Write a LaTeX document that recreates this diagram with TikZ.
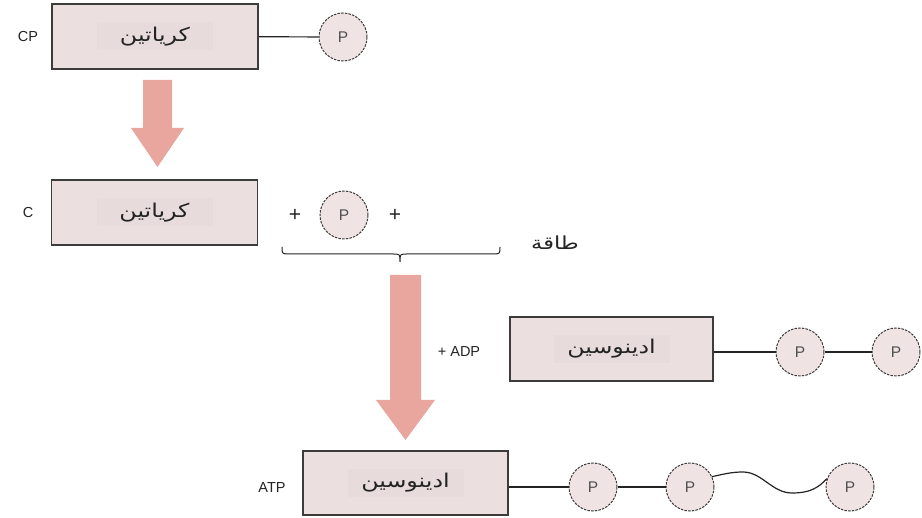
\documentclass[tikz,border=0pt]{standalone}
\usepackage{fontspec}
\setmainfont{Liberation Sans}
\newfontfamily\arabicfont[Script=Arabic,FakeStretch=1.25]{DejaVu Sans}
\TeXXeTstate=1
\definecolor{boxfill}{RGB}{236,223,223}
\definecolor{innerfill}{RGB}{231,219,219}
\definecolor{arrowfill}{RGB}{232,166,158}
\definecolor{pfill}{RGB}{240,227,227}
\definecolor{edge}{RGB}{60,60,60}
\definecolor{ink}{RGB}{35,35,35}
\begin{document}
\begin{tikzpicture}[x=1pt,y=-1pt,
  molbox/.style={draw=edge, line width=1.5pt, fill=boxfill, inner sep=0pt,
    minimum width=206pt, minimum height=65pt, text=ink,
    font=\arabicfont\fontsize{19}{19}\selectfont,
    path picture={\fill[innerfill]
      ([xshift=-58pt,yshift=-14pt]path picture bounding box.center)
      rectangle ([xshift=58pt,yshift=14pt]path picture bounding box.center);}},
  phos/.style={circle, draw=edge, line width=1pt, dash pattern=on 2.5pt off 1.2pt,
    fill=pfill, minimum size=48pt, inner sep=0pt, text=ink!80,
    font=\fontsize{15.5}{15.5}\selectfont},
  lbl/.style={text=ink, font=\fontsize{14.5}{14.5}\selectfont, inner sep=0pt},
  plus/.style={text=ink, font=\fontsize{21}{21}\selectfont, inner sep=0pt},
  arlbl/.style={text=ink, font=\arabicfont\fontsize{18}{18}\selectfont, inner sep=0pt},
  bond/.style={draw=ink, line width=1.2pt},
  bigarrow/.style={fill=arrowfill, draw=none}]

\useasboundingbox (0,0) rectangle (922,518);

% creatine phosphate
\node[molbox] (b1) at (155,36.5) {\beginR كرياتين\endR};
\node[lbl] (cp) at (28,37) {CP};
\node[phos] (p1) at (343,37) {P};
\draw[bond] (b1) -- (p1);

% first reaction arrow
\fill[bigarrow] (143,80) -- (172,80) -- (172,128) -- (184,128) -- (157.5,167)
  -- (131,128) -- (143,128) -- cycle;

% creatine + phosphate + energy
\node[molbox] (b2) at (154.5,212.5) {\beginR كرياتين\endR};
\node[lbl] (c) at (28,213) {C};
\node[plus] (plus1) at (295,215) {+};
\node[phos] (p2) at (344,215) {P};
\node[plus] (plus2) at (395,215) {+};
\node[arlbl] (energy) at (555,243) {\beginR طاقة\endR};

% brace under the released products
\draw[ink, line width=1pt] (282,247) .. controls (282,254) .. (290,254) -- (393,254)
  .. controls (400,254) .. (400,262) .. controls (400,254) .. (407,254) -- (492,254)
  .. controls (500,254) .. (500,247);

% second reaction arrow
\fill[bigarrow] (390,275) -- (421,275) -- (421,400) -- (435,400) -- (405.5,440)
  -- (376,400) -- (390,400) -- cycle;

% ADP
\node[lbl] (adp) at (459,352) {+ ADP};
\node[molbox, minimum width=203pt, minimum height=64pt] (b3) at (611.5,349) {\beginR ادينوسين\endR};
\node[phos] (p3) at (800,352) {P};
\node[phos] (p4) at (896,352) {P};
\draw[bond] (b3.east |- p3) -- (p3);
\draw[bond] (p3) -- (p4);

% ATP
\node[lbl] (atp) at (272,488) {ATP};
\node[molbox, minimum width=205pt, minimum height=64pt] (b4) at (405.5,483) {\beginR ادينوسين\endR};
\node[phos] (p5) at (593,487) {P};
\node[phos] (p6) at (690,487) {P};
\node[phos] (p7) at (850,487) {P};
\draw[bond] (b4.east |- p5) -- (p5);
\draw[bond] (p5) -- (p6);
\draw[bond] (p6.25) .. controls (724,474) and (732,472) .. (743,472)
  .. controls (762,472) and (772,493) .. (792,493)
  .. controls (810,493) and (818,488) .. (p7.160);
\end{tikzpicture}
\end{document}
